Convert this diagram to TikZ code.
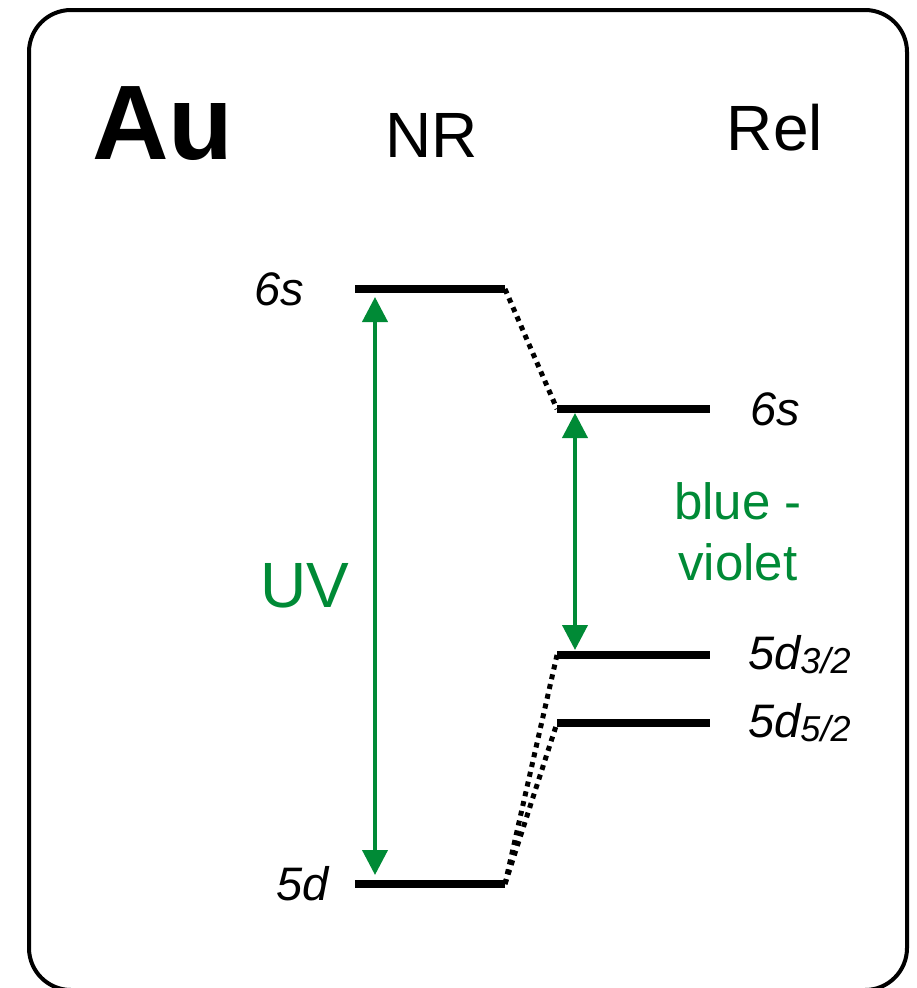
\documentclass[tikz,border=0pt]{standalone}
\usepackage{fontspec}
\setmainfont{Liberation Sans}
\usetikzlibrary{arrows.meta, positioning}
\definecolor{specgreen}{RGB}{0,138,54}
\newcommand{\jsub}[1]{{\fontsize{36}{40}\selectfont\raisebox{-4pt}{#1}}}

\begin{document}
\begin{tikzpicture}[x=1pt, y=-1pt, >={Triangle[length=25pt, width=25pt]},
    level/.style={line width=8pt},
    link/.style={line width=5pt, dash pattern=on 5pt off 5pt},
    trans/.style={<->, draw=specgreen, fill=specgreen, line width=4pt},
    orb/.style={inner sep=0pt, font=\fontsize{47}{56}\selectfont\itshape},
    hdr/.style={inner sep=0pt, font=\fontsize{64}{77}\selectfont},
    band/.style={inner sep=0pt, text=specgreen, align=center,
                 font=\fontsize{51}{61}\selectfont}]
  \useasboundingbox (0,0) rectangle (917,988);
  \draw[line width=4pt, rounded corners=42pt] (29,10) rectangle (907,990);

  % headers
  \node[inner sep=0pt, anchor=base, font=\fontsize{106}{120}\selectfont\bfseries]
    (au) at (163,159) {Au};
  \node[hdr, anchor=base] (nr) at (432,157) {NR};
  \node[hdr, anchor=base] (rel) at (775,150) {Rel};

  % level end points
  \coordinate (nr6sL) at (355,289);  \coordinate (nr6sR) at (505,289);
  \coordinate (nr5dL) at (355,884);  \coordinate (nr5dR) at (505,884);
  \coordinate (r6sL) at (557,409);   \coordinate (r6sR) at (710,409);
  \coordinate (r5dtL) at (557,655);  \coordinate (r5dtR) at (710,655);
  \coordinate (r5dfL) at (557,723);  \coordinate (r5dfR) at (710,723);

  \draw[level] (nr6sL) -- (nr6sR);
  \draw[level] (nr5dL) -- (nr5dR);
  \draw[level] (r6sL) -- (r6sR);
  \draw[level] (r5dtL) -- (r5dtR);
  \draw[level] (r5dfL) -- (r5dfR);

  \draw[link] (nr6sR) -- (r6sL);
  \draw[link] (nr5dR) -- (r5dtL);
  \draw[link] (nr5dR) -- (r5dfL);

  % level labels
  \node[orb, left=51pt of nr6sL] (l6snr) {6s};
  \node[orb, left=26pt of nr5dL] (l5dnr) {5d};
  \node[orb, right=40pt of r6sR] (l6sr) {6s};
  \node[orb, right=38pt of r5dtR] (l5dt) {5d\jsub{3/2}};
  \node[orb, right=38pt of r5dfR] (l5df) {5d\jsub{5/2}};

  % transitions
  \coordinate (uvTop) at (375,297);  \coordinate (uvBot) at (375,875);
  \coordinate (bvTop) at (575,413);  \coordinate (bvBot) at (575,650);

  \draw[trans] (uvTop) -- node[band, left=24pt, font=\fontsize{64}{77}\selectfont]
    (uv) {UV} (uvBot);
  \draw[trans] (bvTop) -- node[band, right=97pt] (bv) {blue -\\violet} (bvBot);
\end{tikzpicture}
\end{document}
